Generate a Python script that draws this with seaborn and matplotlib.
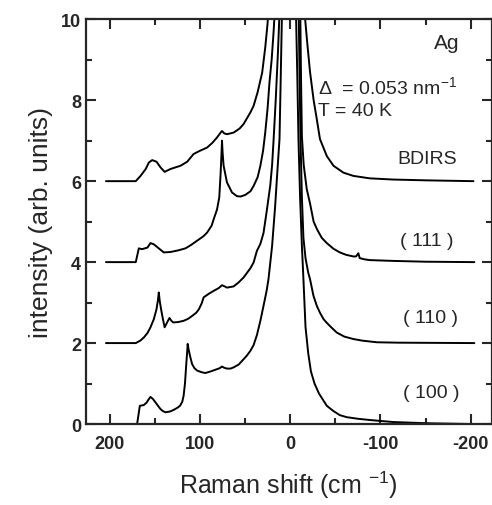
import pandas as pd
import seaborn as sns
import matplotlib.pyplot as plt
from matplotlib.ticker import MultipleLocator

# Raman shift (cm^-1) and intensity (offset already added)
shift_100 = [169.5, 167.5, 166.5, 162, 159, 157, 154.7, 152, 149, 146, 143.6, 141, 138, 133, 129, 125,
             122, 119.5, 118, 116.5, 115, 114, 113.5, 112.5, 111, 108.6, 106, 103, 98, 94, 88, 83, 78,
             75.5, 73, 70, 66, 62.6, 57, 51.6, 48, 44, 40.5, 36.8, 33, 29.5, 26, 24, 20, 16.6, 14,
             11.8, 10.5, 9.2, 8.5,
             -6, -6.6, -8, -9.2, -11, -13, -14.7, -17, -20, -23, -27, -32, -40.6, -48, -55, -62.6,
             -75, -88, -114, -150, -203]
int_100 = [0.0, 0.3, 0.45, 0.47, 0.53, 0.6, 0.67, 0.62, 0.53, 0.44, 0.37, 0.32, 0.29, 0.31, 0.35, 0.4,
           0.45, 0.55, 0.7, 1.0, 1.5, 1.8, 1.98, 1.85, 1.69, 1.48, 1.38, 1.32, 1.28, 1.26, 1.3, 1.34, 1.38,
           1.42, 1.39, 1.37, 1.37, 1.4, 1.47, 1.6, 1.69, 1.81, 1.95, 2.2, 2.55, 2.92, 3.3, 3.58, 4.4, 5.39, 6.3,
           7.04, 8.5, 10.0, 10.6,
           10.6, 10.0, 8.5, 7.04, 5.6, 4.4, 3.58, 2.4, 1.75, 1.3, 1.0, 0.75, 0.45, 0.32, 0.22, 0.17,
           0.13, 0.1, 0.05, 0.02, 0.0]

shift_110 = [204, 171, 166, 162, 158, 154.7, 151, 148, 146.5, 145.5, 144.5, 143, 141, 139, 136.5, 133.7,
             131.5, 129.6, 124, 118, 113, 108.6, 104, 101, 98, 95.8, 90, 84.7, 79, 75.5, 72.5, 70, 62.6,
             57, 51.6, 44, 40.5, 36.8, 33, 29.5, 25.7, 22, 20, 18.4, 16, 13.5, 11,
             -9.2, -10.5, -11.5, -13, -14.7, -17, -20, -22, -25.8, -29.5, -33, -37, -40.6, -45, -51.6,
             -60, -70, -80, -96, -120, -204]
int_110 = [2.0, 2.0, 2.06, 2.14, 2.25, 2.39, 2.59, 2.84, 3.05, 3.25, 3.05, 2.84, 2.6, 2.39, 2.5, 2.62,
           2.55, 2.51, 2.52, 2.55, 2.6, 2.67, 2.75, 2.84, 2.98, 3.13, 3.22, 3.29, 3.36, 3.43, 3.4, 3.37, 3.4,
           3.5, 3.62, 3.85, 3.99, 4.28, 4.45, 4.72, 5.3, 5.9, 6.4, 7.0, 8.0, 9.2, 10.6,
           10.6, 8.5, 7.0, 5.6, 4.6, 4.1, 3.74, 3.58, 3.17, 2.92, 2.75, 2.59, 2.5, 2.4, 2.26,
           2.16, 2.1, 2.06, 2.02, 2.01, 2.0]

shift_111 = [204, 171, 169, 167.6, 164, 158, 154.7, 151, 145.5, 140, 132.6, 124, 116, 110, 103, 96, 92,
             87, 84.7, 81, 78.5, 77, 76, 75.5, 74.8, 73.7, 70, 64.4, 59, 55, 49.7, 44, 40.5, 36, 33, 30,
             27.6, 25, 22.9, 20.5, 18.4, 16,
             -11, -12, -13, -15, -18.4, -22, -26, -30, -35, -40.6, -48, -55, -62, -70, -73, -75.5, -77,
             -82, -88, -114, -150, -204]
int_111 = [4.0, 4.0, 4.2, 4.34, 4.32, 4.36, 4.47, 4.44, 4.34, 4.24, 4.25, 4.29, 4.34, 4.42, 4.53, 4.64, 4.73,
           4.9, 5.06, 5.3, 5.6, 6.2, 6.7, 7.0, 6.7, 6.38, 5.97, 5.72, 5.63, 5.62, 5.66, 5.75, 5.88, 6.1, 6.38, 6.75,
           7.2, 7.8, 8.44, 9.0, 9.67, 10.6,
           10.6, 8.6, 7.1, 6.4, 5.8, 5.45, 5.0, 4.8, 4.6, 4.47, 4.33, 4.24, 4.18, 4.14, 4.14, 4.22, 4.1,
           4.07, 4.05, 4.03, 4.01, 4.0]

shift_bdirs = [204, 171, 165.7, 160, 156.5, 152.8, 148, 143.6, 139, 132.6, 121.5, 114, 107, 100, 92, 86,
               81, 77, 75.5, 73, 70, 62.6, 56, 51.6, 44, 40.5, 36, 31, 27.6, 25, 23.5,
               -15, -16.6, -19, -22, -26, -29, -33, -40.6, -48, -59, -70, -88, -114, -151, -203]
int_bdirs = [6.0, 6.0, 6.13, 6.3, 6.46, 6.52, 6.48, 6.34, 6.23, 6.3, 6.38, 6.48, 6.67, 6.75, 6.83, 6.95,
             7.08, 7.2, 7.24, 7.18, 7.16, 7.2, 7.3, 7.41, 7.7, 7.86, 8.2, 8.68, 9.3, 9.9, 10.6,
             10.6, 10.0, 9.4, 8.7, 8.0, 7.6, 7.04, 6.62, 6.38, 6.21, 6.13, 6.07, 6.04, 6.02, 6.0]

curve_names = ['( 100 )', '( 110 )', '( 111 )', 'BDIRS']

sns.set_style("ticks")
plt.rcParams['font.family'] = ['Liberation Sans', 'DejaVu Sans']
plt.rcParams['mathtext.default'] = 'regular'
plt.rcParams['axes.unicode_minus'] = False

frames = []
for name, x, y in zip(curve_names,
                      [shift_100, shift_110, shift_111, shift_bdirs],
                      [int_100, int_110, int_111, int_bdirs]):
    frames.append(pd.DataFrame({'shift': x, 'intensity': y, 'surface': name}))
df = pd.concat(frames, ignore_index=True)

fig, ax = plt.subplots(figsize=(4.92, 5.06), dpi=100)
fig.subplots_adjust(left=0.175, right=0.999, bottom=0.16, top=0.96)

sns.lineplot(data=df, x='shift', y='intensity', units='surface', estimator=None,
             sort=False, color='black', lw=1.4, ax=ax)

ax.set_xlim(226, -223)
ax.set_ylim(0, 10)
ax.xaxis.set_major_locator(MultipleLocator(100))
ax.xaxis.set_minor_locator(MultipleLocator(50))
ax.yaxis.set_major_locator(MultipleLocator(2))
ax.yaxis.set_minor_locator(MultipleLocator(1))
ax.tick_params(which='both', direction='in', top=True, right=True, width=1.5, labelsize=13)
ax.tick_params(which='major', length=7)
ax.tick_params(which='minor', length=4)
ax.tick_params(axis='x', pad=8)
for lab in ax.get_xticklabels() + ax.get_yticklabels():
    lab.set_fontweight('bold')
for sp in ax.spines.values():
    sp.set_linewidth(1.6)

ax.set_xlabel('Raman shift (cm $^{-1}$)', fontsize=18, labelpad=12)
ax.set_ylabel('intensity (arb. units)', fontsize=19, labelpad=6)

# curve labels
label_x = [-156, -155, -151, -152]
label_y = [0.79, 2.64, 4.54, 6.55]
for name, lx, ly in zip(curve_names, label_x, label_y):
    ax.text(lx, ly, name, ha='center', va='center', fontsize=14)

ax.text(-173.5, 9.43, 'Ag', ha='center', va='center', fontsize=15)
ax.text(-31, 8.35, 'Δ  = 0.053 nm$^{-1}$', ha='left', va='center', fontsize=14)
ax.text(-31, 7.75, 'T = 40 K', ha='left', va='center', fontsize=14)

fig.savefig('out.png', dpi=100)
